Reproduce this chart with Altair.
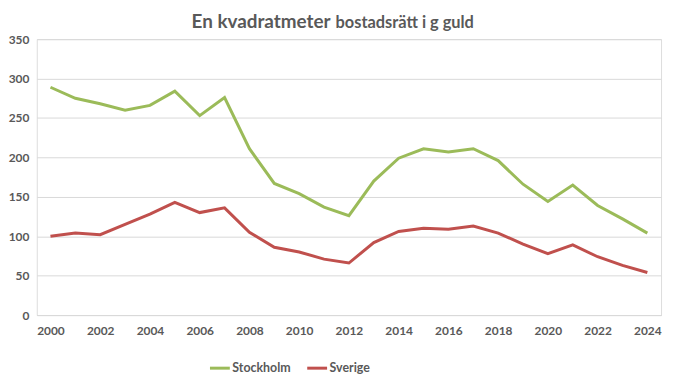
import altair as alt
import pandas as pd

years = list(range(2000, 2025))
stockholm = [289, 275, 268, 260, 266, 284, 253, 276, 211, 167, 154, 137, 126, 170, 199, 211, 207, 211, 196, 166, 144, 165, 139, 122, 104]
sverige = [100, 104, 102, 115, 128, 143, 130, 136, 105, 86, 80, 71, 66, 92, 106, 110, 109, 113, 104, 90, 78, 89, 74, 63, 54]
series = ["Stockholm", "Sverige"]
colors = ["#9BBB59", "#C0504D"]
title_a = "En kvadratmeter"
title_b = "bostadsrätt i g guld"

df = pd.DataFrame({
    "year": years * 2,
    "value": stockholm + sverige,
    "serie": [series[0]] * len(years) + [series[1]] * len(years),
})

FONT = "Lato"
GREY = "#595959"

lines = alt.Chart(df).mark_line(strokeWidth=3).encode(
    x=alt.X("year:Q",
            scale=alt.Scale(domain=[1999.45, 2024.55], nice=False, zero=False),
            axis=alt.Axis(values=list(range(2000, 2025, 2)), format="d", title=None,
                          grid=False, ticks=False, domain=True, domainColor="#D9D9D9",
                          labelPadding=11, labelFontSize=12, labelFontWeight="bold",
                          labelColor=GREY, labelFont=FONT)),
    y=alt.Y("value:Q",
            scale=alt.Scale(domain=[0, 350], nice=False),
            axis=alt.Axis(values=list(range(0, 351, 50)), title=None, grid=True,
                          gridColor="#D9D9D9", ticks=False, domain=False,
                          labelPadding=8, labelFontSize=12, labelFontWeight="bold",
                          labelColor=GREY, labelFont=FONT)),
    color=alt.Color("serie:N", scale=alt.Scale(domain=series, range=colors),
                    legend=alt.Legend(title=None, orient="none", direction="horizontal",
                                      legendX=173, legendY=320, symbolType="stroke",
                                      symbolSize=400, symbolStrokeWidth=3,
                                      labelFontSize=12.5, labelFontWeight="bold",
                                      labelColor=GREY, labelFont=FONT,
                                      labelOffset=1, columnPadding=10)),
)

t1 = alt.Chart(pd.DataFrame({"t": [title_a]})).mark_text(
    align="right", baseline="alphabetic", fontSize=19, fontWeight="bold",
    color=GREY, font=FONT).encode(text="t:N", x=alt.value(296), y=alt.value(-11))
t2 = alt.Chart(pd.DataFrame({"t": [title_b]})).mark_text(
    align="left", baseline="alphabetic", fontSize=16.5, fontWeight="bold",
    color=GREY, font=FONT).encode(text="t:N", x=alt.value(301), y=alt.value(-11))

chart = alt.layer(lines, t1, t2).properties(
    width=629, height=278,
    autosize=alt.AutoSizeParams(type="none"),
    padding={"left": 29, "top": 30, "right": 6, "bottom": 60},
).configure_view(stroke=None).configure(background="white")

chart.save("out.html", embed_options={"renderer": "svg", "actions": False})
